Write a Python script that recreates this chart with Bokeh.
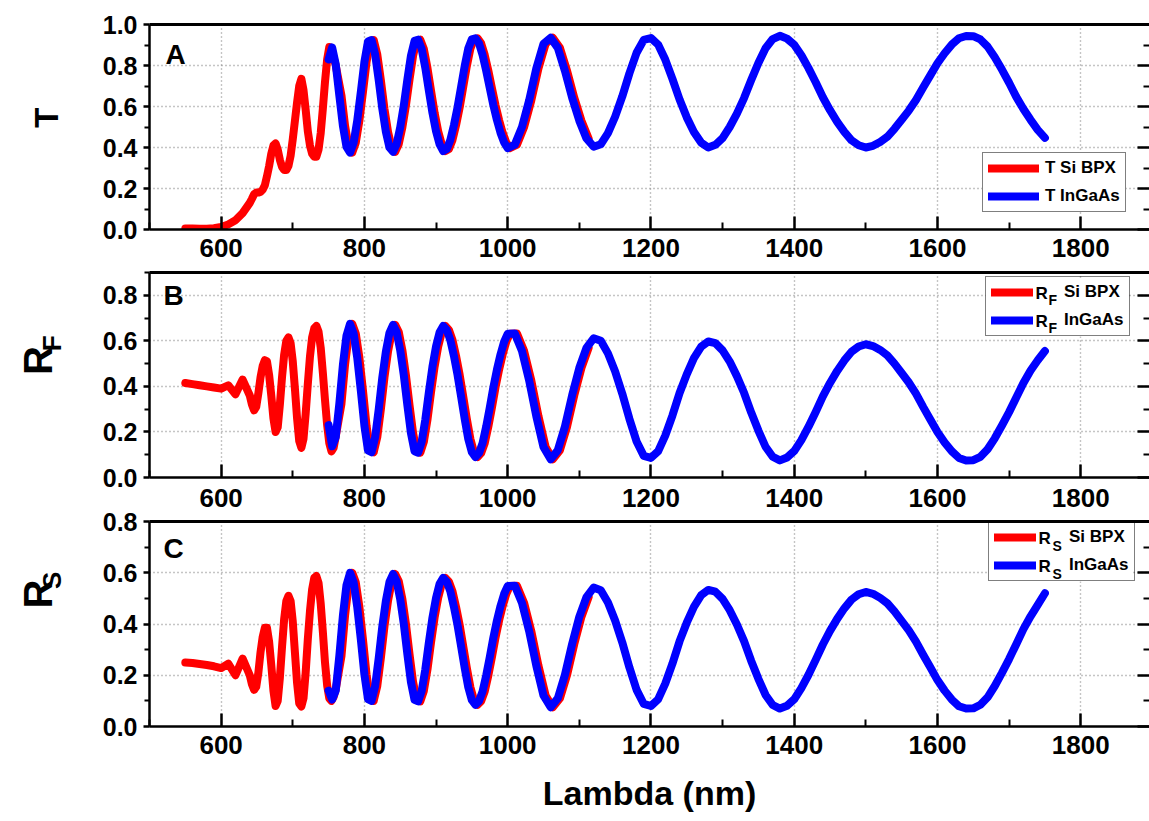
import math
from bokeh.plotting import figure
from bokeh.models import (Range1d, FixedTicker, LinearAxis, Legend, LegendItem,
                          Label, PrintfTickFormatter, CustomJSTickFormatter,
                          BoxAnnotation)
from bokeh.core.properties import value
from bokeh.layouts import column, row
from bokeh.embed import file_html
from bokeh.resources import INLINE

FONT = "Liberation Sans"

# ---------------------------------------------------------------- data
# Wavelength samples (nm) of the Si BPX detector range
wl_si = [550, 560, 570, 580, 590, 600, 610, 620, 630, 640,
         643, 646, 649, 652, 655, 658, 661, 664, 667, 670, 673, 676, 679, 682,
         685, 688, 691, 694, 697, 700, 703, 706, 709, 712, 715, 718, 721, 724,
         727, 730, 733, 736, 739, 742, 745, 748, 751, 754, 757, 760,
         768, 773, 778, 783, 788, 793, 798, 803, 808, 813, 818, 823, 828, 833,
         838, 843, 848, 853, 858, 863, 868, 873, 878, 883, 888, 893, 898, 903,
         908, 913, 918, 923, 928, 933, 938, 943, 948, 953, 958, 963, 968, 973,
         978, 983, 988, 993, 998, 1003,
         1013, 1023, 1033, 1043, 1053, 1063, 1073, 1083, 1093, 1103, 1113]

# Wavelength samples (nm) of the InGaAs detector range
wl_ingaas = [750, 755, 760, 765, 770, 775, 780, 785, 790, 795, 800, 805, 810,
             815, 820, 825, 830, 835, 840, 845, 850, 855, 860, 865, 870, 875,
             880, 885, 890, 895, 900, 905, 910, 915, 920, 925, 930, 935, 940,
             945, 950, 955, 960, 965, 970, 975, 980, 985, 990, 995, 1000,
             1010, 1020, 1030, 1040, 1050, 1060, 1070, 1080, 1090, 1100,
             1110, 1120, 1130, 1140, 1150, 1160, 1170, 1180, 1190, 1200,
             1210, 1220, 1230, 1240, 1250, 1260, 1270, 1280, 1290, 1300,
             1310, 1320, 1330, 1340, 1350, 1360, 1370, 1380, 1390, 1400,
             1410, 1420, 1430, 1440, 1450, 1460, 1470, 1480, 1490, 1500,
             1510, 1520, 1530, 1540, 1550, 1560, 1570, 1580, 1590, 1600,
             1610, 1620, 1630, 1640, 1650, 1660, 1670, 1680, 1690, 1700,
             1710, 1720, 1730, 1740, 1750]

# Transmittance T
t_si = [.005, .005, .004, .004, .006, .012, .025, .045, .08, .13,
        .15, .172, .18, .18, .183, .195, .215, .26, .31, .37, .41, .42, .39, .34,
        .305, .29, .29, .31, .36, .44, .53, .62, .70, .735, .68, .585, .48, .41,
        .37, .355, .355, .39, .47, .59, .72, .83, .89, .885, .84, .80,
        .654, .506, .403, .375, .424, .531, .671, .817, .917, .924, .854, .728,
        .589, .476, .400, .379, .417, .498, .605, .732, .848, .920, .926, .881,
        .789, .677, .569, .479, .415, .383, .393, .437, .509, .595, .696, .797,
        .883, .928, .933, .908, .851, .775, .690, .607, .534, .472, .425, .397,
        .414, .50, .63, .786, .906, .935, .886, .773, .643, .531, .444]

t_ingaas = [.83, .888, .806,
            .654, .506, .403, .375, .424, .531, .671, .817, .917, .924, .854, .728,
            .589, .476, .400, .379, .417, .498, .605, .732, .848, .920, .926, .881,
            .789, .677, .569, .479, .415, .383, .393, .437, .509, .595, .696, .797,
            .883, .928, .933, .908, .851, .775, .690, .607, .534, .472, .425, .397,
            .414, .50, .63, .786, .906, .935, .886, .773, .643, .531,
            .444, .404, .416, .47, .55, .649, .762, .862, .925, .934,
            .902, .829, .735, .634, .547, .476, .424, .40, .413, .446,
            .50, .565, .641, .729, .812, .884, .929, .945, .931, .901,
            .850, .787, .718, .645, .582, .525, .476, .435, .411, .40,
            .408, .427, .452, .491, .535, .58, .632, .693, .752, .811,
            .860, .902, .933, .944, .943, .927, .892, .84, .78, .716,
            .647, .588, .535, .486, .447]

# Front-side reflectance R_F
rf_si = [.415, .41, .405, .40, .395, .39, .405, .365, .43, .36,
         .32, .295, .31, .37, .44, .49, .515, .51, .45, .36, .26, .20, .22, .32,
         .44, .54, .60, .615, .59, .51, .39, .26, .16, .13, .17, .28, .41, .53,
         .615, .655, .665, .64, .57, .46, .34, .23, .15, .115, .13, .18,
         .324, .495, .623, .675, .632, .526, .382, .228, .119, .111, .177, .30,
         .439, .553, .635, .67, .639, .559, .449, .317, .194, .115, .109, .157,
         .253, .374, .486, .575, .638, .665, .648, .603, .533, .451, .355, .257,
         .169, .111, .09, .107, .151, .223, .306, .395, .473, .54, .595, .631,
         .632, .555, .426, .269, .134, .08, .12, .224, .361, .481, .569]

rf_ingaas = [.23, .137, .178,
             .324, .495, .623, .675, .632, .526, .382, .228, .119, .111, .177, .30,
             .439, .553, .635, .67, .639, .559, .449, .317, .194, .115, .109, .157,
             .253, .374, .486, .575, .638, .665, .648, .603, .533, .451, .355, .257,
             .169, .111, .09, .107, .151, .223, .306, .395, .473, .54, .595, .631,
             .632, .555, .426, .269, .134, .08, .12, .224, .361, .481,
             .569, .611, .60, .545, .466, .368, .257, .158, .095, .086,
             .115, .184, .272, .371, .453, .524, .574, .597, .59, .558,
             .509, .445, .372, .285, .206, .135, .091, .075, .088, .116,
             .164, .223, .288, .356, .415, .468, .514, .552, .575, .585,
             .577, .56, .536, .50, .459, .417, .368, .31, .255, .20,
             .154, .115, .086, .075, .076, .091, .124, .172, .228, .287,
             .351, .415, .47, .515, .555]

# Back-side reflectance R_S
rs_si = [.25, .248, .244, .24, .235, .228, .245, .20, .265, .20,
         .165, .143, .155, .21, .29, .35, .385, .385, .33, .24, .14, .08, .10, .19,
         .31, .42, .49, .51, .49, .41, .29, .17, .09, .078, .11, .21, .34, .45,
         .535, .58, .587, .56, .48, .37, .25, .16, .11, .10, .115, .145,
         .275, .433, .552, .60, .562, .467, .34, .203, .107, .10, .158, .267,
         .39, .491, .564, .595, .567, .497, .40, .282, .173, .104, .098, .139,
         .222, .328, .425, .502, .557, .58, .565, .527, .466, .396, .313, .229,
         .153, .103, .085, .099, .137, .199, .27, .346, .413, .47, .517, .548,
         .549, .482, .372, .237, .121, .075, .11, .202, .322, .428, .505]

rs_ingaas = [.14, .105, .14,
             .275, .433, .552, .60, .562, .467, .34, .203, .107, .10, .158, .267,
             .39, .491, .564, .595, .567, .497, .40, .282, .173, .104, .098, .139,
             .222, .328, .425, .502, .557, .58, .565, .527, .466, .396, .313, .229,
             .153, .103, .085, .099, .137, .199, .27, .346, .413, .47, .517, .548,
             .549, .482, .372, .237, .121, .075, .11, .202, .322, .428,
             .505, .542, .532, .484, .414, .328, .23, .143, .088, .08,
             .106, .167, .245, .333, .405, .467, .512, .533, .526, .498,
             .454, .398, .333, .256, .186, .123, .084, .07, .081, .106,
             .15, .202, .26, .32, .373, .42, .461, .495, .516, .525,
             .518, .502, .481, .449, .412, .375, .331, .28, .231, .181,
             .14, .105, .079, .07, .071, .085, .114, .158, .209, .263,
             .321, .38, .43, .475, .52]

for series in (t_si, rf_si, rs_si):
    assert len(series) == len(wl_si), len(series)
for series in (t_ingaas, rf_ingaas, rs_ingaas):
    assert len(series) == len(wl_ingaas), len(series)

x_major = [600, 800, 1000, 1200, 1400, 1600, 1800]
x_minor = [500, 700, 900, 1100, 1300, 1500, 1700, 1900]
y_major_t = [0.0, 0.2, 0.4, 0.6, 0.8, 1.0]
y_minor_t = [0.1, 0.3, 0.5, 0.7, 0.9]
y_major_r = [0.0, 0.2, 0.4, 0.6, 0.8]
y_minor_r = [0.1, 0.3, 0.5, 0.7, 0.9]

RED = "#ff0000"
BLUE = "#0000ff"

# ---------------------------------------------------------------- layout
TITLE_W = 75            # strip holding the rotated y titles
FRAME_W, FRAME_H = 1000, 205
X0, X1 = 500, 1896


def to_data(sx, sy, ymax):
    """Pixel offsets from a frame's bottom-left corner -> data coordinates."""
    return X0 + sx * (X1 - X0) / FRAME_W, sy * ymax / FRAME_H


def make_panel(height, border_top, border_bottom, ymax, y_major, y_minor,
               x_standoff):
    p = figure(width=1149 - TITLE_W, height=height,
               x_range=Range1d(X0, X1), y_range=Range1d(0, ymax),
               output_backend="svg", toolbar_location=None,
               min_border_left=149 - TITLE_W, min_border_right=0,
               min_border_top=border_top, min_border_bottom=border_bottom,
               outline_line_color=None, background_fill_color="white",
               border_fill_color="white", border_fill_alpha=0.0)

    xa = p.below[0]
    xa.ticker = FixedTicker(ticks=x_major, minor_ticks=x_minor)
    xa.axis_line_width = 2.5
    xa.axis_line_color = "black"
    xa.major_tick_in = 13
    xa.major_tick_out = 0
    xa.minor_tick_in = 7
    xa.minor_tick_out = 0
    xa.major_tick_line_width = 2.5
    xa.minor_tick_line_width = 2
    xa.major_tick_line_color = "black"
    xa.minor_tick_line_color = "black"
    xa.major_label_text_font = FONT
    xa.major_label_text_font_style = "bold"
    xa.major_label_text_font_size = "26px"
    xa.major_label_text_color = "black"
    xa.major_label_standoff = x_standoff

    ya = p.left[0]
    ya.ticker = FixedTicker(ticks=y_major, minor_ticks=y_minor)
    ya.formatter = PrintfTickFormatter(format="%.1f")
    ya.axis_line_width = 2.5
    ya.axis_line_color = "black"
    ya.major_tick_in = 0
    ya.major_tick_out = 6
    ya.minor_tick_in = 0
    ya.minor_tick_out = 5
    ya.major_tick_line_width = 2.5
    ya.minor_tick_line_width = 2
    ya.major_tick_line_color = "black"
    ya.minor_tick_line_color = "black"
    ya.major_label_text_font = FONT
    ya.major_label_text_font_style = "bold"
    ya.major_label_text_font_size = "25px"
    ya.major_label_text_color = "black"
    ya.major_label_standoff = 6

    # right-hand ticks (pointing inwards, unlabelled) and the heavy top edge
    ra = LinearAxis(ticker=FixedTicker(ticks=y_major, minor_ticks=y_minor),
                    formatter=CustomJSTickFormatter(code="return ''"),
                    axis_line_color=None, major_tick_in=12, major_tick_out=0,
                    minor_tick_in=6, minor_tick_out=0,
                    major_tick_line_width=2.5, minor_tick_line_width=2,
                    major_label_standoff=0)
    p.add_layout(ra, "right")
    ta = LinearAxis(ticker=FixedTicker(ticks=[]), axis_line_width=3,
                    major_tick_in=0, major_tick_out=0,
                    minor_tick_in=0, minor_tick_out=0,
                    major_label_standoff=0)
    p.add_layout(ta, "above")

    p.xgrid.ticker = FixedTicker(ticks=x_major)
    p.ygrid.ticker = FixedTicker(ticks=[v for v in y_major if v > 0])
    for g in (p.xgrid[0], p.ygrid[0]):
        g.grid_line_color = "#8a8a8a"
        g.grid_line_width = 1.4
        g.grid_line_dash = "1 3"
    return p


def make_title_strip(height):
    """Narrow figure left of a panel: holds the rotated y title text."""
    f = figure(width=TITLE_W, height=height, x_range=Range1d(0, TITLE_W),
               y_range=Range1d(0, height), output_backend="svg",
               toolbar_location=None, x_axis_location=None,
               y_axis_location=None, min_border=0, outline_line_color=None,
               background_fill_alpha=0.0, border_fill_alpha=0.0)
    f.grid.visible = False
    return f


def rotated_text(f, height, cx, cy_start, text, size):
    # cx: centre line of the text, cy_start: where the (upward) text begins;
    # both in strip pixels measured from its top-left corner
    f.text(x=[cx], y=[height - cy_start], text=[text], angle=math.pi / 2,
           text_align="left", text_baseline="middle",
           text_font=value(FONT), text_font_style="bold",
           text_font_size=size, text_color="black")


def add_curves(p, y_si, y_ingaas):
    r1 = p.line(wl_si, y_si, line_color=RED, line_width=8,
                line_cap="round", line_join="round")
    r2 = p.line(wl_ingaas, y_ingaas, line_color=BLUE, line_width=8,
                line_cap="round", line_join="round")
    return r1, r2


def panel_letter(p, x, y, text):
    p.add_layout(Label(x=x, y=y, x_units="screen", y_units="screen", text=text,
                       text_align="center", text_baseline="middle",
                       text_font=FONT, text_font_style="bold",
                       text_font_size="28px", text_color="black"))


def legend(p, items, loc, glyph_width, standoff, opaque=True):
    leg = Legend(items=items, location=loc, margin=0, padding=5, spacing=8,
                 glyph_width=glyph_width, glyph_height=20, label_height=20,
                 label_standoff=standoff, label_text_font=FONT,
                 label_text_font_style="bold", label_text_font_size="17px",
                 label_text_color="black",
                 border_line_color="black", border_line_width=1.5,
                 background_fill_color="white",
                 background_fill_alpha=1.0 if opaque else 0.0)
    p.add_layout(leg)


def subscript_legend_text(p, ymax, loc, width, letter, r_dx, sub_dx, sub_drop):
    """White panel behind a see-through legend, plus 'R' + subscript labels."""
    lx, ly = loc
    left, bottom = to_data(lx, ly, ymax)
    right, top = to_data(lx + width, ly + 58, ymax)
    p.add_layout(BoxAnnotation(left=left, right=right, bottom=bottom, top=top,
                               fill_color="white", fill_alpha=1.0,
                               line_color=None, level="underlay"))
    xs_r, ys_r, xs_s, ys_s = [], [], [], []
    for row_y in (ly + 58 - 15, ly + 58 - 43):      # row centres
        x, y = to_data(lx + r_dx, row_y, ymax)
        xs_r.append(x)
        ys_r.append(y)
        x, y = to_data(lx + sub_dx, row_y - sub_drop, ymax)
        xs_s.append(x)
        ys_s.append(y)
    p.text(x=xs_r, y=ys_r, text=["R", "R"], text_align="left",
           text_baseline="middle", text_font=value(FONT),
           text_font_style="bold", text_font_size="17px", text_color="black")
    p.text(x=xs_s, y=ys_s, text=[letter, letter], text_align="left",
           text_baseline="middle", text_font=value(FONT),
           text_font_style="bold", text_font_size="14px", text_color="black")


# ---------------------------------------------------------------- panel A
HA, HB, HC = 268, 250, 313
pa = make_panel(HA, 24, 39, 1.0, y_major_t, y_minor_t, 9)
a_si, a_in = add_curves(pa, t_si, t_ingaas)
legend(pa, [LegendItem(label="T Si BPX", renderers=[a_si]),
            LegendItem(label="T InGaAs", renderers=[a_in])], (833, 17), 51, 6)
panel_letter(pa, 26, 175, "A")
sa = make_title_strip(HA)
rotated_text(sa, HA, 45.5, 135, "T", "33px")

# ---------------------------------------------------------------- panel B
pb = make_panel(HB, 4, 41, 0.9, y_major_r, y_minor_r, 11)
b_si, b_in = add_curves(pb, rf_si, rf_ingaas)
legend(pb, [LegendItem(label="Si BPX", renderers=[b_si]),
            LegendItem(label="InGaAs", renderers=[b_in])], (836, 141), 42, 31,
       opaque=False)
subscript_legend_text(pb, 0.9, (836, 141), 142, "F", 50, 63, 6)
panel_letter(pb, 24, 182, "B")
sb = make_title_strip(HB)
rotated_text(sb, HB, 37, 393 - 268, "R", "40px")
rotated_text(sb, HB, 51, 364 - 268, "F", "26px")

# ---------------------------------------------------------------- panel C
pc = make_panel(HC, 13, 95, 0.8, y_major_r, y_minor_r, 9)
c_si, c_in = add_curves(pc, rs_si, rs_ingaas)
legend(pc, [LegendItem(label="Si BPX", renderers=[c_si]),
            LegendItem(label="InGaAs", renderers=[c_in])], (839, 145), 42, 33,
       opaque=False)
subscript_legend_text(pc, 0.8, (839, 145), 144, "S", 50, 64, 7)
panel_letter(pc, 24, 178, "C")
sc = make_title_strip(HC)
rotated_text(sc, HC, 37, 641 - 508, "R", "40px")
rotated_text(sc, HC, 51, 611 - 508, "S", "26px")

xc = pc.below[0]
xc.axis_label = "Lambda (nm)"
xc.axis_label_text_font = FONT
xc.axis_label_text_font_style = "bold"
xc.axis_label_text_font_size = "34px"
xc.axis_label_text_color = "black"
xc.axis_label_standoff = 17

# the lowest row is pulled up a little so the middle panel keeps room for
# its tick labels while the bottom panel's top label stays whole
layout = column(row(sa, pa, spacing=0),
                row(sb, pb, spacing=0),
                row(sc, pc, spacing=0, margin=(-10, 0, 0, 0)),
                spacing=0)
open("out.html", "w").write(file_html(layout, INLINE, title="T, RF, RS spectra"))
